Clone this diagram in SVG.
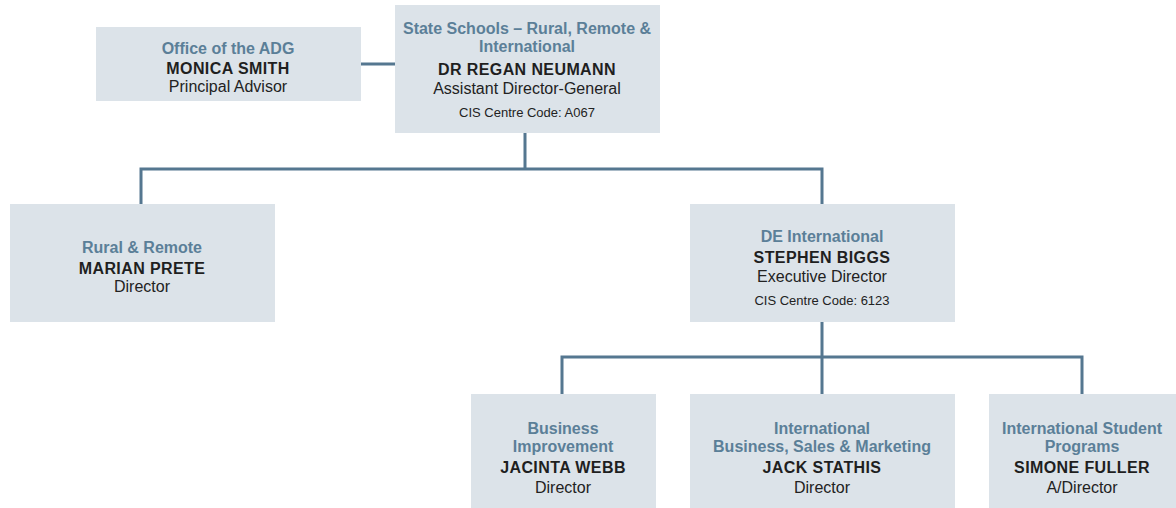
<svg xmlns="http://www.w3.org/2000/svg" width="1176" height="508" viewBox="0 0 1176 508">
<style>
.box{fill:#dce3e9}
.c{fill:none;stroke:#557790;stroke-width:3}
text{font-family:"Liberation Sans",Arial,sans-serif;text-anchor:middle;font-size:16px}
.t{fill:#5b7f98;font-weight:bold}
.n{fill:#1f1f1f;font-weight:bold;letter-spacing:0.4px}
.r{fill:#222}
.s{fill:#222;font-size:13px}
</style>
<rect width="1176" height="508" fill="#fff"/>
<g id="connectors">
<path class="c" d="M361 64H395"/>
<path class="c" d="M525 133V169M141 204V169H822V204"/>
<path class="c" d="M822 322V357M562 394V357H1082V394M822 357V394"/>
</g>
<g id="adg-office">
<rect class="box" x="96" y="27" width="265" height="74"/>
<text class="t" x="228" y="54">Office of the ADG</text>
<text class="n" x="228" y="74">MONICA SMITH</text>
<text class="r" x="228" y="92">Principal Advisor</text>
</g>
<g id="adg">
<rect class="box" x="395" y="5" width="265" height="128"/>
<text class="t" x="527" y="34">State Schools – Rural, Remote &amp;</text>
<text class="t" x="527" y="52">International</text>
<text class="n" x="527" y="75">DR REGAN NEUMANN</text>
<text class="r" x="527" y="94">Assistant Director-General</text>
<text class="s" x="527" y="117">CIS Centre Code: A067</text>
</g>
<g id="rural">
<rect class="box" x="10" y="204" width="265" height="118"/>
<text class="t" x="142" y="253">Rural &amp; Remote</text>
<text class="n" x="142" y="274">MARIAN PRETE</text>
<text class="r" x="142" y="292">Director</text>
</g>
<g id="de-international">
<rect class="box" x="690" y="204" width="265" height="118"/>
<text class="t" x="822" y="242">DE International</text>
<text class="n" x="822" y="263">STEPHEN BIGGS</text>
<text class="r" x="822" y="282">Executive Director</text>
<text class="s" x="822" y="305">CIS Centre Code: 6123</text>
</g>
<g id="business-improvement">
<rect class="box" x="471" y="394" width="185" height="114"/>
<text class="t" x="563" y="434">Business</text>
<text class="t" x="563" y="452">Improvement</text>
<text class="n" x="563" y="473">JACINTA WEBB</text>
<text class="r" x="563" y="493">Director</text>
</g>
<g id="sales-marketing">
<rect class="box" x="690" y="394" width="265" height="114"/>
<text class="t" x="822" y="434">International</text>
<text class="t" x="822" y="452">Business, Sales &amp; Marketing</text>
<text class="n" x="822" y="473">JACK STATHIS</text>
<text class="r" x="822" y="493">Director</text>
</g>
<g id="student-programs">
<rect class="box" x="989" y="394" width="187" height="114"/>
<text class="t" x="1082" y="434">International Student</text>
<text class="t" x="1082" y="452">Programs</text>
<text class="n" x="1082" y="473">SIMONE FULLER</text>
<text class="r" x="1082" y="493">A/Director</text>
</g>
</svg>
